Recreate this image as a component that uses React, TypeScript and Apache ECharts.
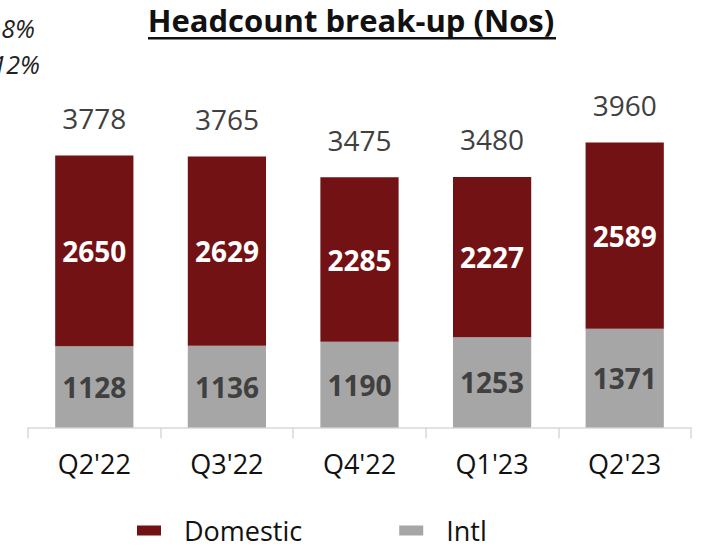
import React, { useEffect, useRef } from "react";
import * as echarts from "echarts";

const categories = ["Q2'22", "Q3'22", "Q4'22", "Q1'23", "Q2'23"];
const intl = [1128, 1136, 1190, 1253, 1371];
const domestic = [2650, 2629, 2285, 2227, 2589];
const totals = [3778, 3765, 3475, 3480, 3960];

const FONT = "'Open Sans', sans-serif";

export default function App() {
  const ref = useRef<HTMLDivElement>(null);
  useEffect(() => {
    if (!ref.current) return;
    const chart = echarts.init(ref.current, undefined, { renderer: "svg" });
    chart.setOption({
      animation: false,
      textStyle: { fontFamily: FONT },
      grid: { left: 28, right: 11, top: 67.5, bottom: 120.5, containLabel: false },
      legend: {
        data: ["Domestic", "Intl"],
        left: 132,
        top: 512,
        icon: "rect",
        itemWidth: 24,
        itemHeight: 10,
        itemGap: 97,
        textStyle: { fontSize: 27, color: "#111", fontFamily: FONT, padding: [0, 0, 0, 18] },
      },
      xAxis: {
        type: "category",
        data: categories,
        axisLine: { lineStyle: { color: "#d9d9d9", width: 1.5 } },
        axisTick: { show: true, length: 11, lineStyle: { color: "#d9d9d9", width: 1.5 } },
        axisLabel: { fontSize: 27, color: "#111", margin: 22, fontFamily: FONT },
      },
      yAxis: { type: "value", min: 0, max: 5000, show: false, splitLine: { show: false } },
      graphic: [
        {
          type: "text",
          x: 351,
          y: 20,
          style: {
            text: "Headcount break-up (Nos)",
            align: "center",
            verticalAlign: "middle",
            fontSize: 31,
            fontWeight: "bold",
            fontFamily: FONT,
            fill: "#111",
          },
        },
        {
          type: "rect",
          shape: { x: 148, y: 37, width: 408, height: 2.5 },
          style: { fill: "#111" },
        },
        {
          type: "text",
          x: 35,
          y: 28,
          style: {
            text: "18%",
            align: "right",
            verticalAlign: "middle",
            fontSize: 25,
            fontStyle: "italic",
            fontFamily: FONT,
            fill: "#222",
          },
        },
        {
          type: "text",
          x: 40,
          y: 64,
          style: {
            text: "12%",
            align: "right",
            verticalAlign: "middle",
            fontSize: 25,
            fontStyle: "italic",
            fontFamily: FONT,
            fill: "#222",
          },
        },
      ],
      series: [
        {
          name: "Intl",
          type: "bar",
          stack: "hc",
          barWidth: "59%",
          data: intl,
          itemStyle: { color: "#a6a6a6" },
          label: {
            show: true,
            position: "inside",
            fontSize: 28,
            fontWeight: "bold",
            color: "#404040",
            fontFamily: FONT,
          },
        },
        {
          name: "Domestic",
          type: "bar",
          stack: "hc",
          barWidth: "59%",
          data: domestic,
          itemStyle: { color: "#731214" },
          label: {
            show: true,
            position: "inside",
            fontSize: 28,
            fontWeight: "bold",
            color: "#ffffff",
            fontFamily: FONT,
          },
        },
        {
          name: "Total",
          type: "scatter",
          data: totals,
          symbol: "circle",
          symbolSize: 1,
          itemStyle: { color: "rgba(0,0,0,0)", opacity: 1 },
          silent: true,
          label: {
            show: true,
            position: "top",
            distance: 23,
            fontSize: 28,
            color: "#404040",
            fontFamily: FONT,
          },
        },
      ],
    });
    return () => chart.dispose();
  }, []);
  return <div ref={ref} style={{ width: 702, height: 548, position: "absolute", left: 0, top: 0 }} />;
}
